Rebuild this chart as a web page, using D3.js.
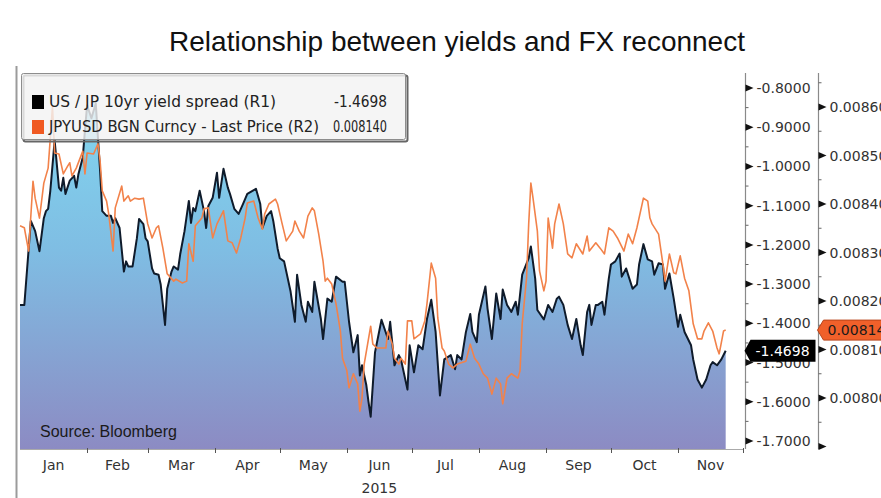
<!DOCTYPE html>
<html>
<head>
<meta charset="utf-8">
<script src="https://cdn.jsdelivr.net/npm/d3@7"></script>
<style>
  body { margin: 0; background: #fff; }
  svg { display: block; }
</style>
</head>
<body>
<svg id="chart" width="881" height="498"></svg>
<script>
// ---- data: days counted from 1 Jan 2015 ----
const spreadDays = [0,2,5,7,9,11,12,13,14,16,18,19,20,21,23,25,26,27,29,30,31,33,35,36,37,38,40,42,43,44,46,48,49,50,52,54,55,57,58,59,61,62,64,65,67,68,70,71,73,74,76,78,79,80,81,83,85,86,87,89,91,92,94,96,97,99,101,103,105,109,111,112,114,116,117,119,120,122,125,127,128,130,132,133,135,136,139,140,142,144,146,149,150,152,154,156,157,158,160,161,162,164,167,170,171,173,175,176,179,180,182,184,186,188,190,192,194,196,199,201,202,204,206,208,209,211,212,215,216,218,220,222,223,225,227,229,230,232,235,236,238,239,242,244,246,248,249,251,253,255,257,259,260,262,263,264,266,267,269,270,272,273,275,277,278,280,283,285,286,288,290,292,293,295,297,298,300,302,304,305,307,310,311,313,315,317,319,320,322,324,326];
const spreadValues = [-1.353,-1.353,-1.139,-1.165,-1.216,-1.132,-1.114,-1.108,-1.062,-0.934,-1.054,-1.062,-1.029,-1.070,-1.036,-1.024,-1.054,-1.019,-0.977,-0.908,-0.844,-0.877,-0.839,-0.926,-1.011,-1.114,-1.126,-1.126,-1.144,-1.132,-1.157,-1.268,-1.242,-1.255,-1.255,-1.183,-1.134,-1.147,-1.183,-1.191,-1.260,-1.273,-1.276,-1.301,-1.404,-1.312,-1.268,-1.255,-1.263,-1.224,-1.165,-1.088,-1.144,-1.106,-1.114,-1.062,-1.114,-1.157,-1.101,-1.080,-1.016,-1.080,-1.006,-1.054,-1.070,-1.108,-1.121,-1.096,-1.070,-1.057,-1.096,-1.157,-1.126,-1.114,-1.139,-1.209,-1.234,-1.242,-1.319,-1.396,-1.276,-1.353,-1.396,-1.345,-1.371,-1.294,-1.389,-1.440,-1.337,-1.345,-1.281,-1.294,-1.294,-1.396,-1.474,-1.430,-1.533,-1.507,-1.558,-1.600,-1.638,-1.474,-1.391,-1.440,-1.396,-1.507,-1.481,-1.492,-1.569,-1.456,-1.525,-1.456,-1.466,-1.389,-1.340,-1.422,-1.584,-1.492,-1.481,-1.517,-1.481,-1.492,-1.422,-1.376,-1.422,-1.448,-1.378,-1.306,-1.363,-1.440,-1.324,-1.389,-1.314,-1.353,-1.371,-1.345,-1.378,-1.276,-1.234,-1.204,-1.286,-1.366,-1.390,-1.353,-1.371,-1.337,-1.332,-1.353,-1.404,-1.440,-1.389,-1.456,-1.481,-1.371,-1.353,-1.404,-1.353,-1.353,-1.345,-1.378,-1.286,-1.250,-1.242,-1.222,-1.281,-1.260,-1.312,-1.301,-1.250,-1.198,-1.237,-1.242,-1.276,-1.247,-1.250,-1.312,-1.273,-1.337,-1.409,-1.378,-1.422,-1.456,-1.492,-1.543,-1.564,-1.543,-1.507,-1.499,-1.507,-1.492,-1.4698];

const jpyDays = [0,2,4,6,7,9,11,13,14,15,16,18,20,22,23,24,26,29,30,31,34,36,37,38,40,41,43,44,47,48,50,51,53,55,57,59,61,63,64,66,68,71,72,75,77,78,80,81,84,85,87,89,91,94,96,98,100,102,104,105,108,110,112,113,115,118,119,121,123,126,127,129,131,133,135,136,138,140,141,142,144,146,148,149,151,152,154,156,157,158,159,162,163,165,169,170,172,173,175,176,178,179,181,182,185,187,188,190,192,193,195,196,198,200,202,206,208,210,212,214,216,218,220,222,223,225,227,230,231,232,234,235,236,237,239,240,242,243,244,246,247,249,251,253,255,257,260,262,263,266,268,270,272,274,276,279,281,283,285,288,290,291,292,295,297,298,300,302,303,305,307,309,311,313,315,316,318,320,322,323,325,326];
const jpyValues = [0.008355,0.008351,0.008303,0.008447,0.008412,0.008371,0.008443,0.008474,0.008536,0.008602,0.008505,0.008503,0.008462,0.008478,0.008485,0.008458,0.008474,0.008509,0.008462,0.008505,0.008503,0.008524,0.008489,0.008427,0.008406,0.008379,0.008303,0.008392,0.008437,0.008406,0.008417,0.008406,0.008412,0.008410,0.008412,0.008359,0.008330,0.008351,0.008355,0.008309,0.008256,0.008241,0.008245,0.008237,0.008241,0.008318,0.008282,0.008355,0.008371,0.008390,0.008392,0.008330,0.008359,0.008386,0.008324,0.008320,0.008299,0.008330,0.008371,0.008402,0.008406,0.008371,0.008348,0.008379,0.008400,0.008410,0.008400,0.008361,0.008324,0.008344,0.008365,0.008344,0.008330,0.008375,0.008392,0.008386,0.008338,0.008282,0.008241,0.008247,0.008235,0.008194,0.008138,0.008082,0.008056,0.008021,0.008050,0.008029,0.007973,0.008000,0.008070,0.008148,0.008111,0.008103,0.008103,0.008138,0.008111,0.008082,0.008070,0.008082,0.008070,0.008159,0.008159,0.008122,0.008132,0.008159,0.008194,0.008278,0.008247,0.008165,0.008103,0.008097,0.008070,0.008062,0.008070,0.008076,0.008111,0.008082,0.008070,0.008050,0.008041,0.008008,0.008041,0.008029,0.007988,0.008041,0.008050,0.008041,0.008056,0.008153,0.008247,0.008359,0.008443,0.008412,0.008344,0.008262,0.008221,0.008241,0.008371,0.008309,0.008359,0.008400,0.008359,0.008297,0.008289,0.008318,0.008297,0.008334,0.008303,0.008320,0.008309,0.008297,0.008351,0.008344,0.008330,0.008303,0.008338,0.008318,0.008351,0.008412,0.008406,0.008371,0.008359,0.008338,0.008276,0.008241,0.008297,0.008258,0.008256,0.008293,0.008247,0.008221,0.008153,0.008122,0.008122,0.008138,0.008155,0.008138,0.008103,0.008091,0.008138,0.008140];

const monthLabels = ["Jan","Feb","Mar","Apr","May","Jun","Jul","Aug","Sep","Oct","Nov"];
const yearLabel = "2015";
const spreadTicks = [-0.8,-0.9,-1.0,-1.1,-1.2,-1.3,-1.4,-1.5,-1.6,-1.7];
const jpyTicks = [0.0086,0.0085,0.0084,0.0083,0.0082,0.0081,0.0080,0.0079];
const seriesNames = ["US / JP 10yr yield spread (R1)", "JPYUSD BGN Curncy - Last Price (R2)"];
const titleText = "Relationship between yields and FX reconnect";
const sourceText = "Source: Bloomberg";

// ---- layout ----
const svg = d3.select("#chart");
const plot = { left: 20, right: 743, top: 73, bottom: 449 };
const axis1X = 745.5, axis2X = 818.5;

// plain hyphen-minus for negative numbers
const locale = d3.formatLocale({ decimal: ".", thousands: ",", grouping: [3], currency: ["$", ""], minus: "-" });
const fmt4 = locale.format(".4f");
const fmt5 = locale.format(".5f");
const fmt6 = locale.format(".6f");

const start = new Date(Date.UTC(2015, 0, 1));
const end = new Date(Date.UTC(2015, 11, 1));
const toDate = d => d3.utcDay.offset(start, d);

const x = d3.scaleUtc().domain([start, end]).range([plot.left, plot.right]);
const y1 = d3.scaleLinear().domain([-0.8, -1.7]).range([88, 441]);
const y2 = d3.scaleLinear().domain([0.0086, 0.0080]).range([107, 398]);

const spread = spreadDays.map((d, i) => ({ date: toDate(d), v: spreadValues[i] }));
const jpy = jpyDays.map((d, i) => ({ date: toDate(d), v: jpyValues[i] }));

const axisFont = "'DejaVu Sans', Verdana, sans-serif";

// gradient for the area under the yield spread
const defs = svg.append("defs");
const grad = defs.append("linearGradient")
  .attr("id", "spreadFill")
  .attr("gradientUnits", "userSpaceOnUse")
  .attr("x1", 0).attr("x2", 0).attr("y1", 90).attr("y2", plot.bottom);
grad.append("stop").attr("offset", "0%").attr("stop-color", "#82d8f0");
grad.append("stop").attr("offset", "45%").attr("stop-color", "#7fbde3");
grad.append("stop").attr("offset", "100%").attr("stop-color", "#8c8bc3");

// title
svg.append("text")
  .attr("x", 457).attr("y", 51)
  .attr("text-anchor", "middle")
  .attr("font-family", "'Liberation Sans', Arial, sans-serif")
  .attr("font-size", 28)
  .attr("fill", "#111")
  .text(titleText);

// left frame edge
svg.append("line")
  .attr("x1", 16.5).attr("x2", 16.5).attr("y1", 66).attr("y2", 498)
  .attr("stroke", "#9b9b9b").attr("stroke-width", 2);

// area + spread line
const area = d3.area()
  .x(d => x(d.date))
  .y0(plot.bottom)
  .y1(d => y1(d.v));
svg.append("path").datum(spread)
  .attr("d", area)
  .attr("fill", "url(#spreadFill)");

const line1 = d3.line().x(d => x(d.date)).y(d => y1(d.v));
svg.append("path").datum(spread)
  .attr("d", line1)
  .attr("fill", "none")
  .attr("stroke", "#0f1b2b")
  .attr("stroke-width", 2)
  .attr("stroke-linejoin", "round");

// JPYUSD line on the second scale
const line2 = d3.line().x(d => x(d.date)).y(d => y2(d.v));
svg.append("path").datum(jpy)
  .attr("d", line2)
  .attr("fill", "none")
  .attr("stroke", "#f2824a")
  .attr("stroke-width", 1.6)
  .attr("stroke-linejoin", "round");

// x axis
svg.append("line")
  .attr("x1", plot.left).attr("x2", plot.right)
  .attr("y1", plot.bottom + 0.5).attr("y2", plot.bottom + 0.5)
  .attr("stroke", "#aaa").attr("stroke-width", 1);

const months = d3.utcMonth.range(start, end);
svg.append("g").selectAll("line")
  .data(months.slice(1).concat([end]))
  .join("line")
  .attr("x1", d => Math.round(x(d)) + 0.5).attr("x2", d => Math.round(x(d)) + 0.5)
  .attr("y1", plot.bottom - 1).attr("y2", plot.bottom + 4)
  .attr("stroke", "#555");

svg.append("g").selectAll("text")
  .data(months)
  .join("text")
  .attr("x", d => (x(d) + x(d3.utcMonth.offset(d, 1))) / 2)
  .attr("y", 470)
  .attr("text-anchor", "middle")
  .attr("font-family", axisFont)
  .attr("font-size", 14)
  .attr("fill", "#333")
  .text((d, i) => monthLabels[i]);

const junMid = (x(months[5]) + x(months[6])) / 2;
svg.append("text")
  .attr("x", junMid).attr("y", 493)
  .attr("text-anchor", "middle")
  .attr("font-family", axisFont)
  .attr("font-size", 14)
  .attr("fill", "#333")
  .text(yearLabel);

// right axes: line, minor ticks, arrow ticks, labels
function drawAxis(ax, scale, ticks, fmt, step) {
  const g = svg.append("g");
  g.append("line")
    .attr("x1", ax).attr("x2", ax)
    .attr("y1", plot.top).attr("y2", plot.bottom)
    .attr("stroke", "#8a8a8a").attr("stroke-width", 1.2);
  const minors = ticks.map(t => t + step / 2)
    .filter(t => scale(t) > plot.top && scale(t) < plot.bottom);
  g.selectAll("line.minor").data(minors).join("line")
    .attr("class", "minor")
    .attr("x1", ax).attr("x2", ax + 3)
    .attr("y1", d => scale(d)).attr("y2", d => scale(d))
    .attr("stroke", "#666");
  const majors = ticks.filter(t => scale(t) >= plot.top && scale(t) <= plot.bottom);
  g.selectAll("path.tri").data(majors).join("path")
    .attr("class", "tri")
    .attr("d", d => {
      const yy = scale(d);
      return `M${ax},${yy - 3.5}L${ax + 8},${yy}L${ax},${yy + 3.5}Z`;
    })
    .attr("fill", "#111");
  g.selectAll("text").data(majors.filter(t => scale(t) < plot.bottom - 6)).join("text")
    .attr("x", ax + 11)
    .attr("y", d => scale(d) + 5)
    .attr("font-family", axisFont)
    .attr("font-size", 14)
    .attr("fill", "#333")
    .text(d => fmt(d));
}
drawAxis(axis1X, y1, spreadTicks, fmt4, -0.1);
drawAxis(axis2X, y2, jpyTicks, fmt5, 0.0001);

// last-value tags
const lastSpread = spreadValues[spreadValues.length - 1];
const lastJpy = jpyValues[jpyValues.length - 1];
const ts = y1(lastSpread);
svg.append("path")
  .attr("d", `M${axis1X - 1},${ts}L${axis1X + 5},${ts - 11}L${axis2X - 3},${ts - 11}L${axis2X - 3},${ts + 11}L${axis1X + 5},${ts + 11}Z`)
  .attr("fill", "#000");
svg.append("text")
  .attr("x", axis1X + 10).attr("y", ts + 5)
  .attr("font-family", axisFont).attr("font-size", 14)
  .attr("fill", "#fff")
  .text(fmt4(lastSpread));

const tj = y2(lastJpy);
svg.append("path")
  .attr("d", `M${axis2X - 1},${tj}L${axis2X + 5},${tj - 10}L${895},${tj - 10}L${895},${tj + 10}L${axis2X + 5},${tj + 10}Z`)
  .attr("fill", "#f0602a").attr("stroke", "#b8441a").attr("stroke-width", 1);
svg.append("text")
  .attr("x", axis2X + 9).attr("y", tj + 5)
  .attr("font-family", axisFont).attr("font-size", 14)
  .attr("fill", "#1a1a1a")
  .text(fmt5(lastJpy));

// source note
svg.append("text")
  .attr("x", 40).attr("y", 437)
  .attr("font-family", "'Liberation Sans', Arial, sans-serif")
  .attr("font-size", 16)
  .attr("fill", "#1a1a1a")
  .text(sourceText);

// legend
const lg = svg.append("g");
lg.append("rect")
  .attr("x", 23.5).attr("y", 75.5).attr("width", 384).attr("height", 66)
  .attr("rx", 2)
  .attr("fill", "none").attr("stroke", "#666").attr("stroke-width", 2);
lg.append("rect")
  .attr("x", 21.5).attr("y", 73.5).attr("width", 384).attr("height", 66)
  .attr("rx", 2)
  .attr("fill", "#f3f3f3").attr("fill-opacity", 0.82)
  .attr("stroke", "#8d8d8d");
const legendColors = ["#000", "#f05a22"];
const legendValues = [fmt4(lastSpread), fmt6(lastJpy)];
const nameWidths = [227, 270];
const valueWidths = [53, 54];
seriesNames.forEach((name, i) => {
  const yy = 102 + i * 25;
  lg.append("rect")
    .attr("x", 32).attr("y", yy - 7).attr("width", 12).attr("height", 14)
    .attr("fill", legendColors[i]);
  lg.append("text")
    .attr("x", 49).attr("y", yy + 5)
    .attr("font-family", axisFont).attr("font-size", 15)
    .attr("fill", "#222")
    .attr("textLength", nameWidths[i]).attr("lengthAdjust", "spacingAndGlyphs")
    .text(name);
  lg.append("text")
    .attr("x", 387).attr("y", yy + 5)
    .attr("text-anchor", "end")
    .attr("font-family", axisFont).attr("font-size", 15)
    .attr("fill", "#222")
    .attr("textLength", valueWidths[i]).attr("lengthAdjust", "spacingAndGlyphs")
    .text(legendValues[i]);
});
</script>
</body>
</html>
